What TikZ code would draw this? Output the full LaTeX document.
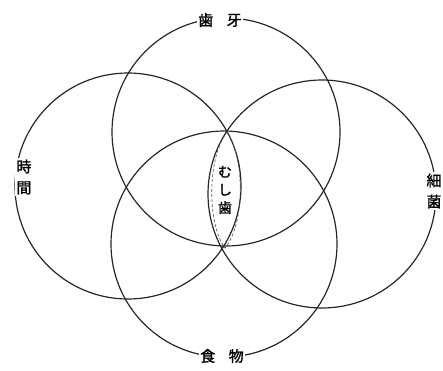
\documentclass[tikz,border=0pt]{standalone}
\usepackage{fontspec}
\newfontfamily\jp{Noto Sans CJK JP}[BoldFont=*, BoldFeatures={FakeBold=1.5}]
\begin{document}
\begin{tikzpicture}[x=1pt,y=-1pt]
\tikzset{
  ring/.style={circle, draw=black!85, line width=1.2pt, inner sep=0pt},
  lbl/.style={font=\jp\bfseries\fontsize{15}{21}\selectfont, fill=white, inner sep=1.5pt, align=center},
  lenslbl/.style={font=\jp\bfseries\fontsize{14}{18}\selectfont, inner sep=0pt, align=center}
}
\useasboundingbox (0,0) rectangle (443,370);
\node[ring, minimum size=228pt] (teeth) at (226,132) {};
\node[ring, minimum size=226pt] (time) at (128,186) {};
\node[ring, minimum size=228pt] (germ) at (322,194) {};
\node[ring, minimum size=226pt] (food) at (224,244) {};
% labels
\node[lbl] (lteeth) at (220,20) {歯\hspace{0.9em}牙};
\node[lbl] (ltime) at (24,177) {時\\間};
\node[lbl] (lgerm) at (434,191) {細\\菌};
\node[lbl] (lfood) at (222,356) {食\hspace{0.9em}物};
% caries lens
\coordinate (ltop) at (227,132);
\coordinate (lbot) at (225,248);
\draw[black!70, line width=0.6pt, dash pattern=on 3pt off 2pt]
  (ltop) .. controls (207,158) and (207,224) .. (lbot)
         .. controls (245,224) and (245,158) .. (ltop);
\node[lenslbl] (caries) at (225,190) {む\\し\\歯};
\end{tikzpicture}
\end{document}
